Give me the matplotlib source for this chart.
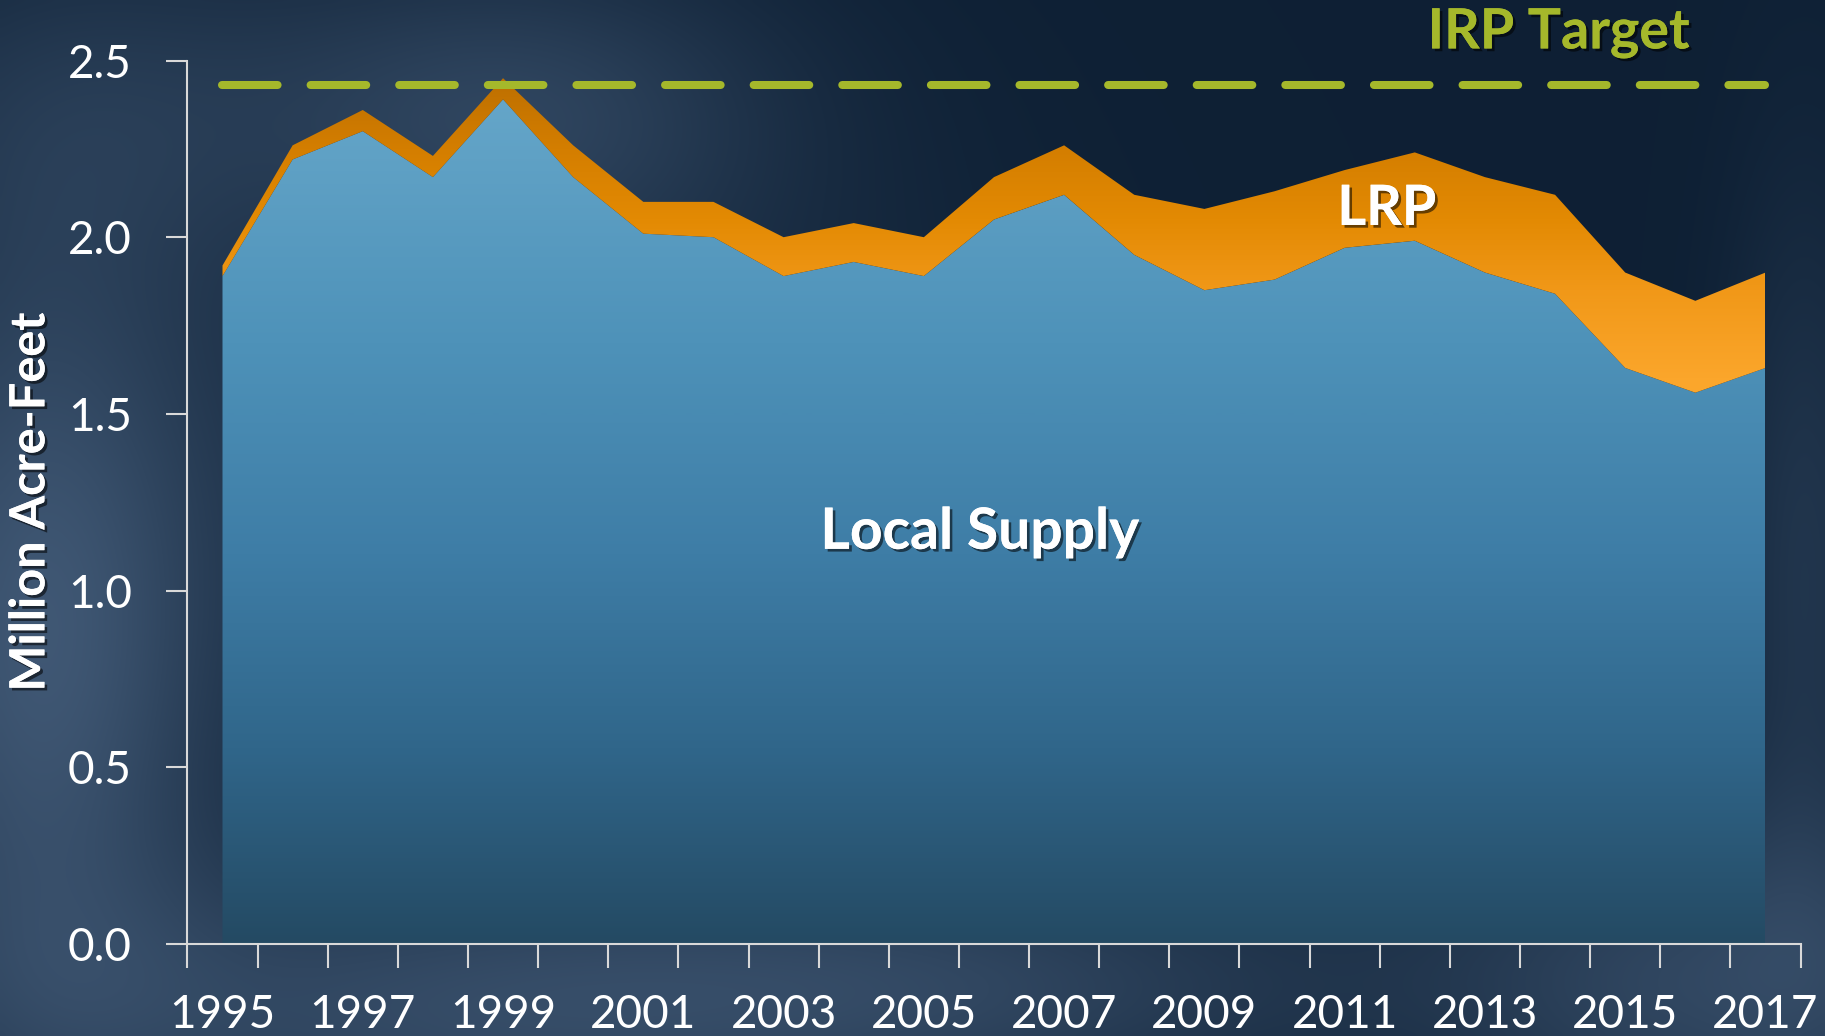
import numpy as np
import matplotlib.pyplot as plt
from matplotlib import patheffects
from matplotlib.colors import LinearSegmentedColormap

# Data (million acre-feet)
years = list(range(1995, 2018))
local_supply = [1.89, 2.22, 2.30, 2.17, 2.39, 2.17, 2.01, 2.00, 1.89, 1.93, 1.89, 2.05,
                2.12, 1.95, 1.85, 1.88, 1.97, 1.99, 1.90, 1.84, 1.63, 1.56, 1.63]
lrp = [0.03, 0.04, 0.06, 0.06, 0.06, 0.09, 0.09, 0.10, 0.11, 0.11, 0.11, 0.12,
       0.14, 0.17, 0.23, 0.25, 0.22, 0.25, 0.27, 0.28, 0.27, 0.26, 0.27]
irp_target = 2.43
y_ticks = [0.0, 0.5, 1.0, 1.5, 2.0, 2.5]

plt.rcParams['font.family'] = ['Lato', 'DejaVu Sans']

fig = plt.figure(figsize=(18.25, 10.36), dpi=100)

# --- background: dark navy with soft lighter clouds
bg = fig.add_axes([0, 0, 1, 1], zorder=-10)
bg.axis('off')
h, w = 259, 456
yy, xx = np.mgrid[0:1:h * 1j, 0:1:w * 1j]
base = np.array([0.055, 0.125, 0.205])
light = np.array([0.30, 0.40, 0.52])
clouds = [(0.02, 0.62, 0.07, 0.28, 0.75),
          (0.05, 0.10, 0.10, 0.12, 0.25),
          (0.28, 0.10, 0.10, 0.10, 0.40),
          (0.30, 0.45, 0.15, 0.25, 0.28),
          (0.25, 0.98, 0.20, 0.10, 0.55),
          (0.55, 0.95, 0.15, 0.08, 0.35),
          (0.95, 0.95, 0.12, 0.12, 0.55),
          (0.99, 0.55, 0.03, 0.25, 0.30)]
strength = np.zeros_like(xx)
for cx, cy, sx, sy, s in clouds:
    strength += s * np.exp(-((xx - cx) ** 2 / (2 * sx ** 2) + (yy - cy) ** 2 / (2 * sy ** 2)))
strength = np.clip(strength, 0, 1)
img = base[None, None, :] * (1 - strength[..., None]) + light[None, None, :] * strength[..., None]
bg.imshow(img, extent=(0, 1, 0, 1), aspect='auto', interpolation='bicubic')
bg.set_xlim(0, 1)
bg.set_ylim(0, 1)

# --- main axes
ax = fig.add_axes([0.1027, 0.0888, 0.8839, 0.8528])
ax.set_facecolor('none')
x = np.arange(len(years))
total = np.array(local_supply) + np.array(lrp)

local_cmap = LinearSegmentedColormap.from_list('local', [
    (0.0, '#244a63'), (0.22, '#30668a'), (0.44, '#3e7da6'),
    (0.68, '#4e92b9'), (0.96, '#65a6c9'), (1.0, '#67a8cb')])
lrp_cmap = LinearSegmentedColormap.from_list('lrp', [
    (0.0, '#fca82e'), (0.1, '#fba62b'), (0.35, '#f19818'),
    (0.55, '#e38a03'), (0.75, '#d47e00'), (0.95, '#bd6f00'), (1.0, '#b86c00')])

grad = np.linspace(0, 1, 512).reshape(-1, 1)

local_poly = ax.fill_between(x, 0, local_supply, facecolor='none', edgecolor='none')
im1 = ax.imshow(grad, cmap=local_cmap, extent=(x[0], x[-1], 0, 2.5), origin='lower',
                aspect='auto', zorder=1, interpolation='bilinear')
im1.set_clip_path(local_poly.get_paths()[0], transform=ax.transData)

lrp_poly = ax.fill_between(x, local_supply, total, facecolor='none', edgecolor='none')
im2 = ax.imshow(grad, cmap=lrp_cmap, extent=(x[0], x[-1], 1.5, 2.5), origin='lower',
                aspect='auto', zorder=1, interpolation='bilinear')
im2.set_clip_path(lrp_poly.get_paths()[0], transform=ax.transData)

# IRP target dashed line
ax.plot(x, [irp_target] * len(x), color='#a5b82b', lw=5.8, dashes=(6.9, 4.1),
        dash_capstyle='round', zorder=3)

ax.set_xlim(-0.5, len(years) - 0.5)
ax.set_ylim(0, 2.5)

# axes styling
for side in ['top', 'right']:
    ax.spines[side].set_visible(False)
for side in ['left', 'bottom']:
    ax.spines[side].set_color('#d9d9d9')
    ax.spines[side].set_linewidth(1.5)

ax.set_yticks(y_ticks)
ax.set_yticklabels(['{:.1f}'.format(v) for v in y_ticks])
ax.tick_params(axis='y', colors='#d9d9d9', length=15, width=1.5, pad=25,
               labelsize=33, labelcolor='white')

ax.set_xticks(np.arange(-0.5, len(years), 1))
ax.set_xticklabels([])
ax.tick_params(axis='x', which='major', colors='#d9d9d9', length=17, width=1.5)
ax.set_xticks(x[::2], minor=True)
ax.set_xticklabels([str(y) for y in years[::2]], minor=True)
ax.tick_params(axis='x', which='minor', length=0, pad=36, labelsize=33, labelcolor='white')

shadow = [patheffects.withSimplePatchShadow(offset=(2, -2), shadow_rgbFace='black', alpha=0.55),
          patheffects.Normal()]

ax.set_ylabel('Million Acre-Feet', fontsize=35, fontweight='bold', color='white',
              path_effects=shadow)
ax.yaxis.set_label_coords(-0.0837, 0.5)

ax.text(19.05, 2.578, 'IRP Target', fontsize=40, fontweight='bold', color='#a5b82b',
        ha='center', va='center', path_effects=shadow, clip_on=False, zorder=5)
ax.text(16.6, 2.08, 'LRP', fontsize=40, fontweight='bold', color='white',
        ha='center', va='center', path_effects=shadow, zorder=5)
ax.text(10.8, 1.165, 'Local Supply', fontsize=41, fontweight='bold', color='white',
        ha='center', va='center', path_effects=shadow, zorder=5)

fig.savefig('out.png', dpi=100)
